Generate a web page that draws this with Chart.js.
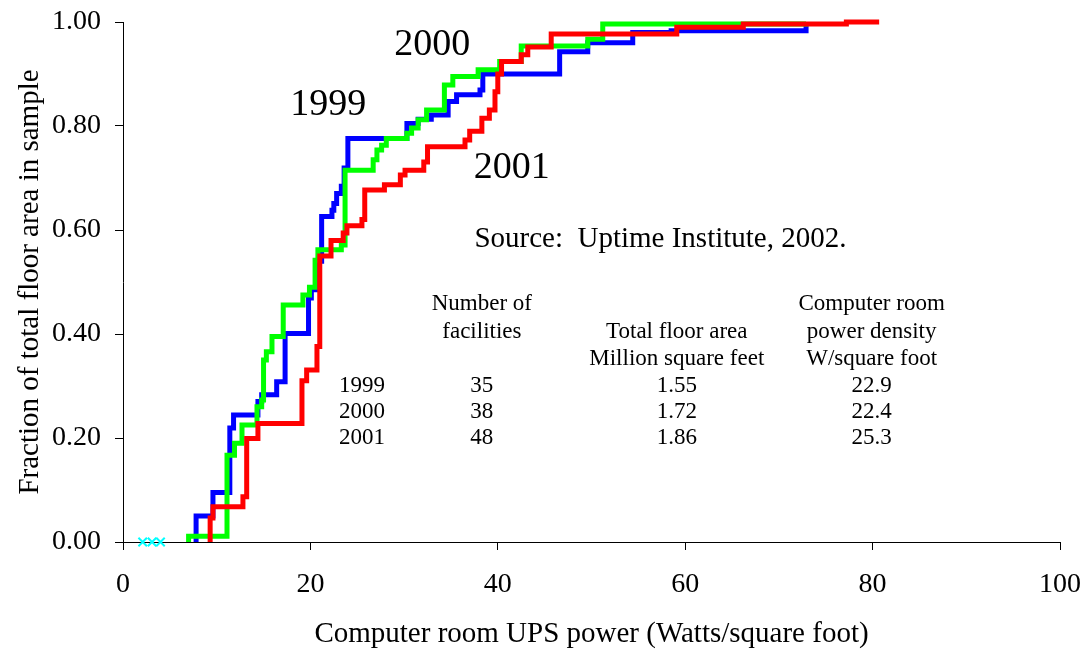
<!DOCTYPE html>
<html>
<head>
<meta charset="utf-8">
<script src="https://cdn.jsdelivr.net/npm/chart.js@4.4.1/dist/chart.umd.min.js"></script>
<style>
  html, body { margin: 0; padding: 0; background: #fff; }
</style>
</head>
<body>
<canvas id="chart" width="1091" height="653"></canvas>
<script>
// Cumulative share of floor area vs UPS power density
// each point = where the step rises to that fraction
const x1999 = [7.8, 7.8, 9.6, 11.4, 11.8, 14.4, 14.8, 16.4, 17.3, 19.8, 20.1, 20.7, 21.2, 22.3, 22.5, 22.8, 23.3, 23.6, 24.0, 30.3, 31.5, 32.9, 34.7, 35.6, 38.1, 38.4, 46.6, 49.6, 54.4, 58.5, 72.9];
const y1999 = [0.0, 0.05, 0.095, 0.219, 0.244, 0.27, 0.283, 0.308, 0.401, 0.469, 0.485, 0.54, 0.626, 0.638, 0.651, 0.67, 0.684, 0.719, 0.776, 0.805, 0.813, 0.821, 0.847, 0.86, 0.869, 0.90, 0.943, 0.96, 0.98, 0.983, 1.0];

const x2000 = [7.0, 7.0, 11.1, 11.9, 12.7, 14.3, 14.8, 15.0, 15.3, 15.9, 17.1, 19.2, 19.9, 20.5, 20.8, 23.3, 23.7, 26.7, 27.1, 27.6, 28.1, 30.3, 30.8, 31.5, 32.4, 34.3, 35.2, 37.9, 40.2, 42.5, 49.6, 51.2, 72.9];
const y2000 = [0.0, 0.011, 0.167, 0.19, 0.225, 0.26, 0.273, 0.35, 0.366, 0.395, 0.456, 0.475, 0.49, 0.542, 0.562, 0.571, 0.715, 0.735, 0.754, 0.763, 0.776, 0.786, 0.796, 0.812, 0.831, 0.879, 0.895, 0.908, 0.924, 0.954, 0.967, 0.996, 1.0];

const x2001 = [9.3, 9.3, 9.6, 12.8, 13.2, 14.4, 19.1, 19.6, 20.7, 21.0, 22.2, 23.5, 23.9, 25.5, 25.8, 27.9, 29.6, 30.1, 32.1, 32.5, 36.5, 37.0, 38.3, 39.1, 39.7, 40.0, 40.4, 42.5, 43.2, 45.7, 59.1, 66.2, 77.2, 80.7];
const y2001 = [0.0, 0.046, 0.068, 0.087, 0.199, 0.228, 0.31, 0.331, 0.376, 0.55, 0.58, 0.594, 0.608, 0.62, 0.677, 0.687, 0.706, 0.715, 0.731, 0.76, 0.773, 0.79, 0.815, 0.831, 0.866, 0.90, 0.924, 0.937, 0.952, 0.977, 0.99, 0.996, 1.0, 1.0];

// the little cyan crosses sitting on the x axis
const markX = [2.1, 3.1, 4.0];
const markY = [0, 0, 0];

// inset table
const tableYears = ['1999', '2000', '2001'];
const facilities = ['35', '38', '48'];
const floorArea = ['1.55', '1.72', '1.86'];
const powerDensity = ['22.9', '22.4', '25.3'];

const serif = '"Liberation Serif", "Times New Roman", serif';
const toPts = (xs, ys) => xs.map((v, i) => ({ x: v, y: ys[i] }));

// text notes drawn in data coordinates
const notesPlugin = {
    id: 'notes',
    afterDraw(chart) {
        const { ctx, scales: { x, y } } = chart;
        const put = (txt, dx, dy, size, align) => {
            ctx.save();
            ctx.font = size + 'px ' + serif;
            ctx.textAlign = align || 'center';
            ctx.textBaseline = 'middle';
            ctx.fillStyle = '#000';
            ctx.fillText(txt, x.getPixelForValue(dx), y.getPixelForValue(dy));
            ctx.restore();
        };
        put('1999', 21.9, 0.840, 38);
        put('2000', 33.0, 0.956, 38);
        put('2001', 41.5, 0.720, 38);
        put('Source:  Uptime Institute, 2002.', 37.5, 0.581, 29, 'left');

        // table headers
        put('Number of', 38.3, 0.458, 23);
        put('facilities', 38.3, 0.404, 23);
        put('Total floor area', 59.1, 0.404, 23);
        put('Million square feet', 59.1, 0.352, 23);
        put('Computer room', 79.9, 0.458, 23);
        put('power density', 79.9, 0.404, 23);
        put('W/square foot', 79.9, 0.352, 23);

        const rowY = [0.300, 0.250, 0.200];
        tableYears.forEach((yr, i) => {
            put(yr, 25.5, rowY[i], 23);
            put(facilities[i], 38.3, rowY[i], 23);
            put(floorArea[i], 59.1, rowY[i], 23);
            put(powerDensity[i], 79.9, rowY[i], 23);
        });
    }
};

const lineSet = (label, xs, ys, color, order) => ({
    label: label,
    data: toPts(xs, ys),
    borderColor: color,
    backgroundColor: color,
    borderWidth: 5,
    stepped: true,
    pointRadius: 0,
    fill: false,
    clip: false,
    order: order
});

new Chart(document.getElementById('chart'), {
    type: 'line',
    data: {
        datasets: [
            lineSet('1999', x1999, y1999, '#0000ff', 3),
            lineSet('2000', x2000, y2000, '#00ff00', 2),
            lineSet('2001', x2001, y2001, '#ff0000', 1),
            {
                label: 'marks',
                data: toPts(markX, markY),
                showLine: false,
                pointStyle: 'crossRot',
                pointRadius: 6,
                borderColor: '#00ffff',
                borderWidth: 2,
                clip: false,
                order: 0
            }
        ]
    },
    options: {
        responsive: false,
        animation: false,
        layout: { padding: { left: 0, right: 31, top: 22, bottom: 0 } },
        plugins: {
            legend: { display: false },
            tooltip: { enabled: false }
        },
        scales: {
            x: {
                type: 'linear',
                min: 0,
                max: 100,
                ticks: {
                    stepSize: 20,
                    color: '#000',
                    font: { family: serif, size: 28 },
                    padding: 18,
                    maxRotation: 0
                },
                grid: { drawOnChartArea: false, drawTicks: true, tickLength: 8, color: '#000' },
                border: { color: '#000', width: 1 },
                title: {
                    display: true,
                    text: 'Computer room UPS power (Watts/square foot)',
                    color: '#000',
                    font: { family: serif, size: 29 },
                    padding: { top: 0, bottom: 1 }
                },
                afterFit(s) {
                    s.height = 111;
                    s.paddingLeft = 0;
                    s.paddingRight = 0;
                }
            },
            y: {
                type: 'linear',
                min: 0,
                max: 1,
                ticks: {
                    stepSize: 0.2,
                    color: '#000',
                    font: { family: serif, size: 28 },
                    padding: 14,
                    callback: v => v.toFixed(2)
                },
                grid: { drawOnChartArea: false, drawTicks: true, tickLength: 8, color: '#000' },
                border: { color: '#000', width: 1 },
                title: {
                    display: true,
                    text: 'Fraction of total floor area in sample',
                    color: '#000',
                    font: { family: serif, size: 29 },
                    padding: { top: 13, bottom: 0 }
                },
                afterFit(s) {
                    s.width = 123;
                    s.paddingTop = 0;
                    s.paddingBottom = 0;
                }
            }
        }
    },
    plugins: [notesPlugin]
});
</script>
</body>
</html>
